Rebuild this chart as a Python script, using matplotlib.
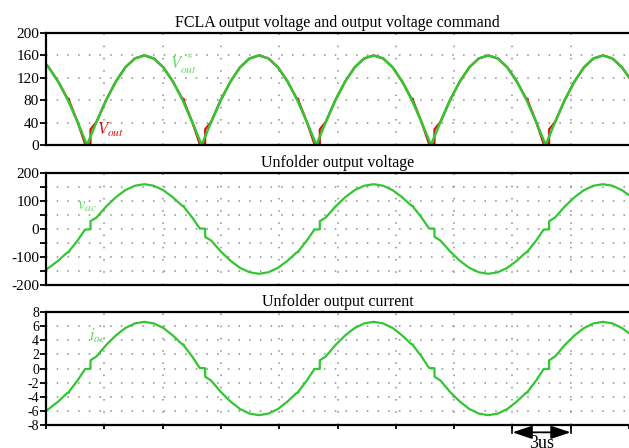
import matplotlib
matplotlib.use("Agg")
import matplotlib.pyplot as plt

plt.rcParams['font.family'] = ['Liberation Serif', 'DejaVu Serif']
plt.rcParams['mathtext.fontset'] = 'stix'
plt.rcParams['axes.unicode_minus'] = False

# time axis in us (3 us per division)
t_cmd = [0.00, 0.14, 0.63, 1.13, 1.62, 2.11,
         2.60, 3.09, 3.59, 4.08, 4.57, 5.06, 5.55, 6.04, 6.54, 7.03, 7.52, 8.01,
         8.50, 8.99, 9.49, 9.98, 10.47, 10.96, 11.45, 11.94, 12.44, 12.93, 13.42, 13.91,
         14.40, 14.89, 15.39, 15.88, 16.37, 16.86, 17.35, 17.84, 18.34, 18.83, 19.32, 19.81,
         20.30, 20.79, 21.29, 21.78, 22.27, 22.76, 23.25, 23.74, 24.24, 24.73, 25.22, 25.71,
         26.20, 26.69, 27.19, 27.68, 28.17, 28.66, 29.15, 29.64, 30.00]
vout_cmd = [144.3, 138.6, 113.1, 80.0, 41.4, 0,
            41.4, 80.0, 113.1, 138.6, 154.5, 160, 154.5, 138.6, 113.1, 80.0, 41.4, 0,
            41.4, 80.0, 113.1, 138.6, 154.5, 160, 154.5, 138.6, 113.1, 80.0, 41.4, 0,
            41.4, 80.0, 113.1, 138.6, 154.5, 160, 154.5, 138.6, 113.1, 80.0, 41.4, 0,
            41.4, 80.0, 113.1, 138.6, 154.5, 160, 154.5, 138.6, 113.1, 80.0, 41.4, 0,
            41.4, 80.0, 113.1, 138.6, 154.5, 160, 154.5, 138.6, 121.0]

t_act = [0.00, 0.14, 0.63, 1.09, 1.19, 1.19, 1.62, 2.01, 2.29, 2.29,
         2.60, 3.09, 3.59, 4.08, 4.57, 5.06, 5.55, 6.04, 6.53, 6.99, 7.09, 7.09, 7.52, 7.91, 8.19, 8.19,
         8.50, 8.99, 9.49, 9.98, 10.47, 10.96, 11.45, 11.94, 12.43, 12.89, 12.99, 12.99, 13.42, 13.81, 14.09, 14.09,
         14.40, 14.89, 15.39, 15.88, 16.37, 16.86, 17.35, 17.84, 18.33, 18.79, 18.89, 18.89, 19.32, 19.71, 19.99, 19.99,
         20.30, 20.79, 21.29, 21.78, 22.27, 22.76, 23.25, 23.74, 24.23, 24.69, 24.79, 24.79, 25.22, 25.61, 25.89, 25.89,
         26.20, 26.69, 27.19, 27.68, 28.17, 28.66, 29.15, 29.64, 30.00]
vout = [144.3, 138.6, 113.1, 84, 82, 79, 41.4, 2, 1, 28,
        41.4, 80, 113.1, 138.6, 154.5, 160, 154.5, 138.6, 113.1, 84, 82, 79, 41.4, 2, 1, 28,
        41.4, 80, 113.1, 138.6, 154.5, 160, 154.5, 138.6, 113.1, 84, 82, 79, 41.4, 2, 1, 28,
        41.4, 80, 113.1, 138.6, 154.5, 160, 154.5, 138.6, 113.1, 84, 82, 79, 41.4, 2, 1, 28,
        41.4, 80, 113.1, 138.6, 154.5, 160, 154.5, 138.6, 113.1, 84, 82, 79, 41.4, 2, 1, 28,
        41.4, 80, 113.1, 138.6, 154.5, 160, 154.5, 138.6, 121.0]
vac = [-144.3, -138.6, -113.1, -84, -82, -79, -41.4, -2, -1, 28,
       41.4, 80, 113.1, 138.6, 154.5, 160, 154.5, 138.6, 113.1, 84, 82, 79, 41.4, 2, 1, -28,
       -41.4, -80, -113.1, -138.6, -154.5, -160, -154.5, -138.6, -113.1, -84, -82, -79, -41.4, -2, -1, 28,
       41.4, 80, 113.1, 138.6, 154.5, 160, 154.5, 138.6, 113.1, 84, 82, 79, 41.4, 2, 1, -28,
       -41.4, -80, -113.1, -138.6, -154.5, -160, -154.5, -138.6, -113.1, -84, -82, -79, -41.4, -2, -1, 28,
       41.4, 80, 113.1, 138.6, 154.5, 160, 154.5, 138.6, 121.0]
iac = [-5.96, -5.73, -4.67, -3.47, -3.39, -3.26, -1.71, -0.08, -0.04, 1.16,
       1.71, 3.31, 4.67, 5.73, 6.38, 6.61, 6.38, 5.73, 4.67, 3.47, 3.39, 3.26, 1.71, 0.08, 0.04, -1.16,
       -1.71, -3.31, -4.67, -5.73, -6.38, -6.61, -6.38, -5.73, -4.67, -3.47, -3.39, -3.26, -1.71, -0.08, -0.04, 1.16,
       1.71, 3.31, 4.67, 5.73, 6.38, 6.61, 6.38, 5.73, 4.67, 3.47, 3.39, 3.26, 1.71, 0.08, 0.04, -1.16,
       -1.71, -3.31, -4.67, -5.73, -6.38, -6.61, -6.38, -5.73, -4.67, -3.47, -3.39, -3.26, -1.71, -0.08, -0.04, 1.16,
       1.71, 3.31, 4.67, 5.73, 6.38, 6.61, 6.38, 5.73, 5.00]

titles = ["FCLA output voltage and output voltage command",
          "Unfolder output voltage",
          "Unfolder output current"]
x_grid = [3, 6, 9, 12, 15, 18, 21, 24, 27]

green = '#33c633'
lgreen = '#66d966'
red = '#e01010'

W, H = 629, 448
fig = plt.figure(figsize=(W / 100, H / 100), dpi=100)
left = 46 / W
boxes = [(33, 145), (173, 285), (312, 425)]
axes = []
for top, bot in boxes:
    ax = fig.add_axes([left, 1 - bot / H, 1 - left, (bot - top) / H])
    axes.append(ax)
ax1, ax2, ax3 = axes

ax1.plot(t_act, vout, color=red, lw=1.6)
ax1.plot(t_cmd, vout_cmd, color=green, lw=1.8)
ax1.set_ylim(0, 200)
ax1.set_yticks([0, 40, 80, 120, 160, 200])
ax1.text(6.4, 136, r'$V_{out}^{\ *}$', color=lgreen, fontsize=12)
ax1.text(2.6, 18, r'$V_{out}$', color=red, fontsize=12)

ax2.plot(t_act, vac, color=green, lw=1.6)
ax2.set_ylim(-200, 200)
ax2.set_yticks([-200, -100, 0, 100, 200])
ax2.set_yticks([-150, -50, 50, 150], minor=True)
ax2.text(1.6, 68, r'$v_{ac}$', color=lgreen, fontsize=12)

ax3.plot(t_act, iac, color=green, lw=1.6)
ax3.set_ylim(-8, 8)
ax3.set_yticks([-8, -6, -4, -2, 0, 2, 4, 6, 8])
ax3.text(2.2, 4.0, r'$i_{ac}$', color=lgreen, fontsize=12)

for ax, title in zip(axes, titles):
    ax.set_xlim(0, 30)
    ax.set_title(title, fontsize=11.5, pad=4)
    ax.spines['right'].set_visible(False)
    for s in ['top', 'bottom', 'left']:
        ax.spines[s].set_linewidth(1.6)
    ax.tick_params(axis='y', which='both', direction='out', length=4, width=1.3,
                   labelsize=11, pad=1)
    ax.set_xticks([0] + x_grid + [30])
    ax.set_xticklabels([])
    ax.tick_params(axis='x', length=0)
    lo, hi = ax.get_ylim()
    ys = [y for y in list(ax.get_yticks()) + list(ax.get_yticks(minor=True)) if lo < y < hi]
    for y in ys:
        ax.axhline(y, color='#8c8c8c', lw=1.1, ls=(0, (1, 6)), zorder=0)
    for x in x_grid:
        ax.axvline(x, color='#8c8c8c', lw=1.1, ls=(0, (1, 7)), zorder=0)

ax3.tick_params(axis='y', labelsize=10)
ax3.tick_params(axis='x', direction='out', length=3, width=1.3)

# 3us scale marker
for x in (24, 27):
    ax3.plot([x, x], [0, -0.075], color='k', lw=1.2,
             transform=ax3.get_xaxis_transform(), clip_on=False)
ax3.annotate('', xy=(24, -0.065), xytext=(27, -0.065),
             xycoords=('data', 'axes fraction'), textcoords=('data', 'axes fraction'),
             arrowprops=dict(arrowstyle='<|-|>,head_length=0.75,head_width=0.25',
                             color='k', lw=1.3, mutation_scale=16,
                             shrinkA=0, shrinkB=0),
             annotation_clip=False)
ax3.text(25.5, -0.085, '3us', transform=ax3.get_xaxis_transform(),
         ha='center', va='top', fontsize=13)

fig.savefig('out.png', dpi=100)
